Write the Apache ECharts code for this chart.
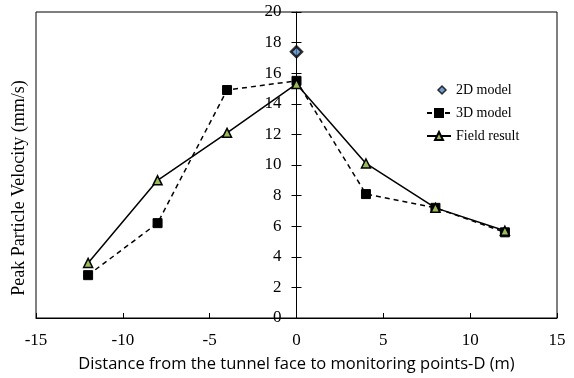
<!DOCTYPE html>
<html><head><meta charset="utf-8">
<script src="https://cdn.jsdelivr.net/npm/echarts@6/dist/echarts.min.js"></script>
<style>html,body{margin:0;padding:0;background:#fff}#c{width:574px;height:378px}</style>
</head><body><div id="c"></div>
<script>
const distances = [-12, -8, -4, 0, 4, 8, 12];
const model2D = [[0, 17.4]];
const model3D = [2.8, 6.2, 14.9, 15.5, 8.1, 7.2, 5.6];
const field = [3.6, 9.0, 12.1, 15.3, 10.1, 7.2, 5.7];
const xTicks = [-15, -10, -5, 0, 5, 10, 15];
const yTicks = [0, 2, 4, 6, 8, 10, 12, 14, 16, 18, 20];
const yName = 'Peak Particle Velocity (mm/s)';

const serif = "'Liberation Serif', serif";
const chart = echarts.init(document.getElementById('c'));
chart.setOption({
  animation: false,
  grid: {left: 36, right: 17, top: 12, bottom: 60, show: true, borderColor: '#000', borderWidth: 1, outerBoundsMode: 'none', containLabel: false},
  legend: {
    orient: 'vertical', left: 421, top: 78, itemGap: 9, itemWidth: 24, itemHeight: 10,
    textStyle: {fontFamily: serif, fontSize: 14, color: '#000'},
    data: [
      {name: '2D model', icon: 'path://M0,0 M24,10 M15,1 L19,5 L15,9 L11,5 Z', itemStyle: {borderWidth: 1.5}},
      '3D model', 'Field result'
    ]
  },
  graphic: [{
    type: 'text', x: 19, y: 188, rotation: Math.PI / 2,
    style: {text: yName, font: "18px 'Liberation Serif'", fill: '#000', align: 'center', verticalAlign: 'middle'}
  }],
  xAxis: {
    type: 'value', min: xTicks[0], max: xTicks[xTicks.length - 1], interval: 5,
    name: 'Distance from the tunnel face to monitoring points-D (m)',
    nameLocation: 'middle', nameGap: 38,
    nameTextStyle: {fontFamily: 'Open Sans', fontSize: 16.5, color: '#000'},
    axisLine: {onZero: false, lineStyle: {color: '#000'}},
    axisTick: {inside: true, length: 5, lineStyle: {color: '#000'}},
    axisLabel: {fontFamily: serif, fontSize: 17, color: '#000', margin: 14},
    splitLine: {show: false}
  },
  yAxis: [{
    type: 'value', min: yTicks[0], max: yTicks[yTicks.length - 1], interval: 2,
    position: 'left', offset: -260.5,
    axisLine: {show: true, onZero: false, lineStyle: {color: '#000'}},
    axisTick: {show: true, length: 5, lineStyle: {color: '#000'}},
    axisLabel: {fontFamily: serif, fontSize: 17, color: '#000', margin: 15},
    splitLine: {show: false}
  }, {
    type: 'value', min: yTicks[0], max: yTicks[yTicks.length - 1], interval: 2,
    position: 'right', offset: -260.5,
    axisLine: {show: false, onZero: false},
    axisTick: {show: true, length: 5, lineStyle: {color: '#000'}},
    axisLabel: {show: false},
    splitLine: {show: false}
  }],
  series: [{
    name: '2D model', type: 'scatter', data: model2D,
    symbol: 'diamond', symbolSize: 11,
    itemStyle: {color: '#4f81bd', borderColor: '#000', borderWidth: 2.5}
  }, {
    name: '3D model', type: 'line', data: distances.map((d, i) => [d, model3D[i]]),
    symbol: 'rect', symbolSize: 9,
    lineStyle: {color: '#000', width: 1.5, type: [5, 4]},
    itemStyle: {color: '#000', borderColor: '#000', borderWidth: 1}
  }, {
    name: 'Field result', type: 'line', data: distances.map((d, i) => [d, field[i]]),
    symbol: 'triangle', symbolSize: 9,
    lineStyle: {color: '#000', width: 1.5},
    itemStyle: {color: '#9bbb59', borderColor: '#000', borderWidth: 1.5}
  }]
});
</script></body></html>
